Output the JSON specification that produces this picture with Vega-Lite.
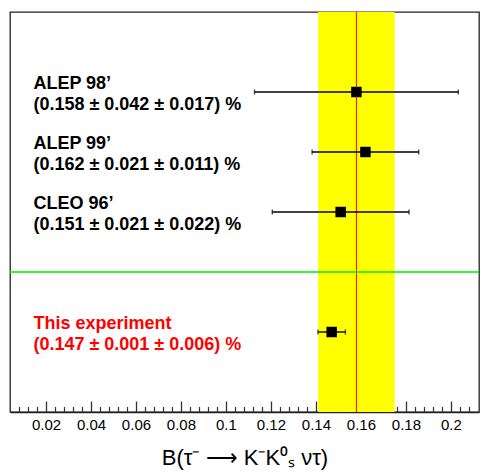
{
  "$schema": "https://vega.github.io/schema/vega-lite/v6.json",
  "width": 469,
  "height": 400,
  "autosize": "none",
  "padding": {"left": 10, "top": 12, "right": 5, "bottom": 64},
  "background": "white",
  "config": {"view": {"stroke": "#222", "strokeWidth": 1.3}},
  "datasets": {
    "meas": [
      {"label": ["ALEP 98’", "(0.158 ± 0.042 ± 0.017) %"], "value": 0.158, "lo": 0.1127, "hi": 0.2033, "row": 8, "group": "ref"},
      {"label": ["ALEP 99’", "(0.162 ± 0.021 ± 0.011) %"], "value": 0.162, "lo": 0.1383, "hi": 0.1857, "row": 6.5, "group": "ref"},
      {"label": ["CLEO 96’", "(0.151 ± 0.021 ± 0.022) %"], "value": 0.151, "lo": 0.1206, "hi": 0.1814, "row": 5, "group": "ref"},
      {"label": ["This experiment", "(0.147 ± 0.001 ± 0.006) %"], "value": 0.147, "lo": 0.1409, "hi": 0.1531, "row": 2, "group": "this"}
    ],
    "avg": [{"value": 0.158, "lo": 0.141, "hi": 0.175}],
    "sep": [{"row": 3.5}]
  },
  "resolve": {"axis": {"x": "independent"}},
  "layer": [
    {
      "data": {"name": "avg"},
      "mark": {"type": "rect", "color": "#ffff00"},
      "encoding": {
        "x": {"field": "lo", "type": "quantitative",
          "scale": {"domain": [0.004, 0.2125], "nice": false, "zero": false},
          "axis": {"orient": "bottom", "values": [0.008,0.012,0.016,0.024,0.028,0.032,0.036,0.044,0.048,0.052,0.056,0.064,0.068,0.072,0.076,0.084,0.088,0.092,0.096,0.104,0.108,0.112,0.116,0.124,0.128,0.132,0.136,0.144,0.148,0.152,0.156,0.164,0.168,0.172,0.176,0.184,0.188,0.192,0.196,0.204,0.208],
            "labels": false, "title": null, "grid": false, "domain": false,
            "tickSize": -5.5, "tickColor": "#333", "tickWidth": 1.2}},
        "x2": {"field": "hi"}
      }
    },
    {
      "data": {"name": "avg"},
      "mark": {"type": "rule", "color": "#ff0000", "strokeWidth": 1},
      "encoding": {"x": {"field": "value", "type": "quantitative", "axis": null}}
    },
    {
      "data": {"name": "sep"},
      "mark": {"type": "rule", "color": "#00ee00", "strokeWidth": 1.3},
      "encoding": {"y": {"field": "row", "type": "quantitative", "scale": {"domain": [0, 10], "nice": false}, "axis": null}}
    },
    {
      "data": {"name": "meas"},
      "mark": {"type": "rule", "color": "black", "strokeWidth": 1.4},
      "encoding": {
        "x": {"field": "lo", "type": "quantitative",
          "axis": {"orient": "bottom", "values": [0.02,0.04,0.06,0.08,0.1,0.12,0.14,0.16,0.18,0.2],
            "format": "~g", "grid": false, "domain": true, "domainColor": "#222", "domainWidth": 1.3,
            "tickSize": -11, "tickColor": "#333", "tickWidth": 1.3,
            "labelFont": "Liberation Sans", "labelFontSize": 15, "labelColor": "black", "labelPadding": 16,
            "title": "B(τ⁻ ⟶ K⁻K⁰ₛ ντ)", "titleFont": "Liberation Sans", "titleFontSize": 22,
            "titleFontWeight": "normal", "titleColor": "black", "titlePadding": 15}},
        "x2": {"field": "hi"},
        "y": {"field": "row", "type": "quantitative", "axis": null}
      }
    },
    {
      "data": {"name": "meas"},
      "mark": {"type": "tick", "orient": "vertical", "color": "black", "size": 5, "thickness": 1.4},
      "encoding": {
        "x": {"field": "lo", "type": "quantitative", "axis": null},
        "y": {"field": "row", "type": "quantitative", "axis": null}
      }
    },
    {
      "data": {"name": "meas"},
      "mark": {"type": "tick", "orient": "vertical", "color": "black", "size": 5, "thickness": 1.4},
      "encoding": {
        "x": {"field": "hi", "type": "quantitative", "axis": null},
        "y": {"field": "row", "type": "quantitative", "axis": null}
      }
    },
    {
      "data": {"name": "meas"},
      "mark": {"type": "point", "shape": "square", "filled": true, "color": "black", "size": 110, "opacity": 1},
      "encoding": {
        "x": {"field": "value", "type": "quantitative", "axis": null},
        "y": {"field": "row", "type": "quantitative", "axis": null}
      }
    },
    {
      "data": {"name": "meas"},
      "mark": {"type": "text", "align": "left", "baseline": "middle", "font": "Liberation Sans", "fontSize": 18, "fontWeight": "bold", "lineHeight": 21, "dy": -8.5},
      "encoding": {
        "x": {"datum": 0.0144, "type": "quantitative", "axis": null},
        "y": {"field": "row", "type": "quantitative", "axis": null},
        "text": {"field": "label"},
        "color": {"field": "group", "type": "nominal", "scale": {"domain": ["ref", "this"], "range": ["black", "#ff0000"]}, "legend": null}
      }
    }
  ]
}
